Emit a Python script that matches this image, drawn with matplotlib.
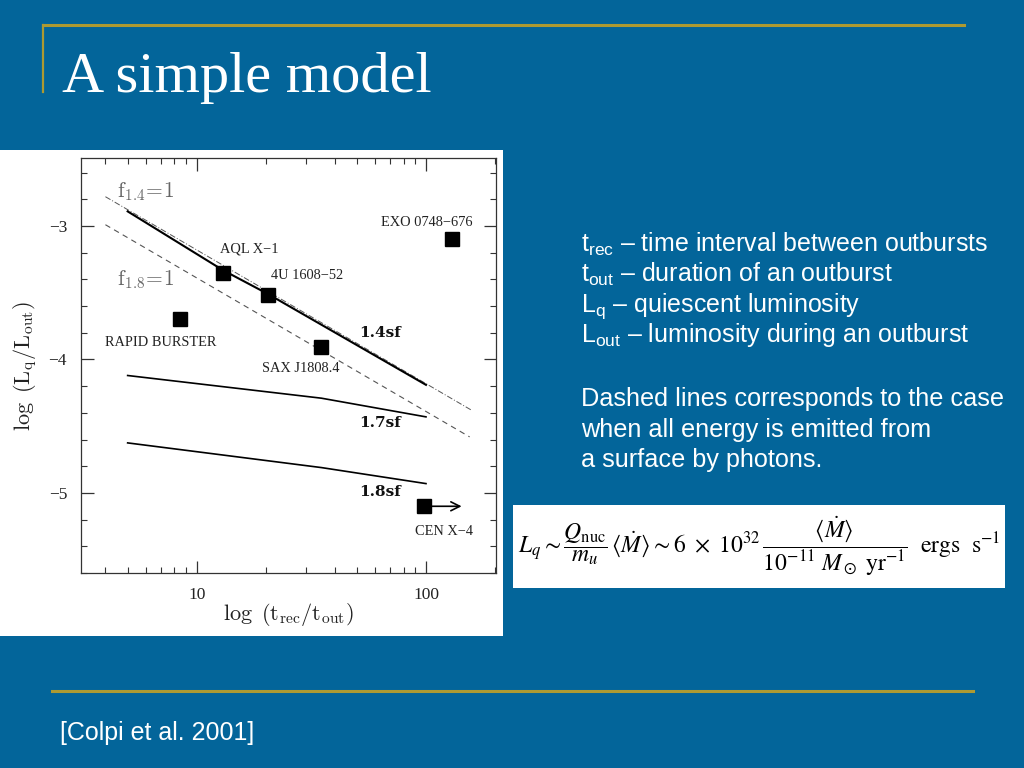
import matplotlib
matplotlib.use("Agg")
import matplotlib.pyplot as plt
from matplotlib.patches import Rectangle
from matplotlib.lines import Line2D
from matplotlib.ticker import LogLocator, NullFormatter, MultipleLocator

plt.rcParams['font.family'] = ['Liberation Serif', 'DejaVu Serif']
plt.rcParams['mathtext.fontset'] = 'custom'
plt.rcParams['mathtext.rm'] = 'Liberation Sans'
plt.rcParams['mathtext.it'] = 'Liberation Sans:italic'

# --- data ---
src_names = ['AQL X\u22121', '4U 1608\u221252', 'RAPID BURSTER', 'SAX J1808.4',
             'EXO 0748\u2212676', 'CEN X\u22124']
src_x = [13.0, 20.5, 8.5, 34.9, 130, 98]
src_y = [-3.35, -3.52, -3.70, -3.905, -3.10, -5.10]
name_x = [12.6, 21.0, 3.98, 19.2, 63.8, 89.6]
name_y = [-3.17, -3.37, -3.87, -4.07, -2.97, -5.29]

sf14_x = [5, 13, 20.5, 100]
sf14_y = [-2.89, -3.33, -3.51, -4.19]
sf17_x = [5, 35, 100]
sf17_y = [-4.12, -4.29, -4.43]
sf18_x = [5, 35, 100]
sf18_y = [-4.625, -4.81, -4.93]
f14_x = [4, 158]
f14_y = [-2.78, -4.38]
f18_x = [4, 155]
f18_y = [-2.99, -4.58]

curve_labels = ['1.4sf', '1.7sf', '1.8sf']
curve_lab_y = [-3.80, -4.475, -4.99]

yticks = [-3, -4, -5]
ytick_labels = ['\u22123', '\u22124', '\u22125']
xticks = [10, 100]
xtick_labels = ['10', '100']

bg = '#03659a'
gold = '#ad9a32'

W, H = 1024, 768
def px(x, y):
    return x / W, 1 - y / H

fig = plt.figure(figsize=(10.24, 7.68), dpi=100, facecolor=bg)

# slide decoration
fig.add_artist(Line2D([43 / W, 964 / W], [1 - 25 / H] * 2, color=gold, lw=2.2))
fig.add_artist(Line2D([43 / W] * 2, [1 - 25 / H, 1 - 92 / H], color=gold, lw=1.6))
fig.add_artist(Line2D([52 / W, 973 / W], [1 - 691 / H] * 2, color=gold, lw=2.2))
fig.text(*px(62, 92), 'A simple model', color='white', fontsize=42,
         family='Liberation Serif', va='baseline', ha='left')
fig.text(*px(60, 740), '[Colpi et al. 2001]', color='white', fontsize=18,
         family='Liberation Sans', va='baseline', ha='left')

# white panel behind the chart
fig.add_artist(Rectangle(px(0, 636), 503 / W, 486 / H, transform=fig.transFigure,
                         facecolor='white', edgecolor='none', zorder=0))

# right-hand notes
notes = ['t$_{\\rm rec}$ \u2013 time interval between outbursts',
         't$_{\\rm out}$ \u2013 duration of an outburst',
         'L$_{\\rm q}$ \u2013 quiescent luminosity',
         'L$_{\\rm out}$ \u2013 luminosity during an outburst']
for i, n in enumerate(notes):
    fig.text(*px(581, 252 + 30 * i), n, color='white', fontsize=18,
             family='Liberation Sans', va='baseline', ha='left')
para = ['Dashed lines corresponds to the case',
        'when all energy is emitted from',
        'a surface by photons.']
for i, n in enumerate(para):
    fig.text(*px(581, 406 + 30.5 * i), n, color='white', fontsize=18.2,
             family='Liberation Sans', va='baseline', ha='left')

# formula box
fig.add_artist(Rectangle(px(513, 588), 492 / W, 83 / H, transform=fig.transFigure,
                         facecolor='white', edgecolor='none', zorder=0))
formula = (r'$L_q \sim \dfrac{Q_{\rm nuc}}{m_u}\,\langle\dot{M}\rangle \sim 6\ \times\ 10^{32}'
           r'\,\dfrac{\langle\dot{M}\rangle}{10^{-11}\ M_\odot\ {\rm yr}^{-1}}'
           r'\ \ {\rm ergs\ \ s}^{-1}$')
fig.text(*px(759, 546), formula, color='black', fontsize=17, math_fontfamily='stix',
         ha='center', va='center')

# chart
ax = fig.add_axes([81 / W, 1 - 573 / H, 415 / W, 415 / H])
ax.set_xscale('log')
ax.set_xlim(3.13, 202)
ax.set_ylim(-5.6, -2.49)

ax.plot(f14_x, f14_y, color='#555555', lw=0.7, ls=(0, (6, 2, 1, 2)))
ax.plot(f18_x, f18_y, color='#555555', lw=0.8, ls=(0, (5, 4)))
ax.plot(sf14_x, sf14_y, color='black', lw=1.5)
ax.plot(sf17_x, sf17_y, color='black', lw=1.2)
ax.plot(sf18_x, sf18_y, color='black', lw=1.2)
ax.plot(src_x, src_y, ls='none', marker='s', ms=9.5, color='black')
ax.annotate('', xy=(143, src_y[5]), xytext=(src_x[5], src_y[5]),
            arrowprops=dict(arrowstyle='->', color='black', lw=1.2,
                            mutation_scale=16, shrinkA=0, shrinkB=0))

for n, x, y in zip(src_names, name_x, name_y):
    ax.text(x, y, n, fontsize=10.4, color='#222222', ha='left', va='center')
for n, y in zip(curve_labels, curve_lab_y):
    ax.text(51, y, n, fontsize=11, family='DejaVu Serif', fontweight='bold',
            color='#111111', ha='left', va='center')
ax.text(4.49, -2.745, r'$\mathrm{f_{1.4}\!=\!1}$', fontsize=15.5, color='#666666',
        math_fontfamily='cm', ha='left', va='center')
ax.text(4.49, -3.40, r'$\mathrm{f_{1.8}\!=\!1}$', fontsize=15.5, color='#666666',
        math_fontfamily='cm', ha='left', va='center')

ax.set_xticks(xticks, xtick_labels)
ax.xaxis.set_minor_locator(LogLocator(base=10, subs=range(2, 10)))
ax.xaxis.set_minor_formatter(NullFormatter())
ax.set_yticks(yticks, ytick_labels)
ax.yaxis.set_minor_locator(MultipleLocator(0.2))
ax.tick_params(which='both', direction='in', top=True, right=True, color='#333333',
               labelsize=12.5, labelcolor='#222222')
ax.tick_params(which='major', length=9, width=0.9, pad=10)
ax.tick_params(which='minor', length=4.5, width=0.8)
for s in ax.spines.values():
    s.set_linewidth(0.9)
    s.set_color('#333333')

fig.text(*px(288, 614), r'$\log\ (\mathrm{t_{rec}/t_{out}})$', fontsize=16,
         math_fontfamily='cm', color='#222222', ha='center', va='center')
fig.text(*px(26, 366), r'$\log\ (\mathrm{L_q/L_{out}})$', fontsize=16,
         math_fontfamily='cm', color='#222222', ha='center', va='center', rotation=90)

fig.savefig('out.png', dpi=100, facecolor=bg)
